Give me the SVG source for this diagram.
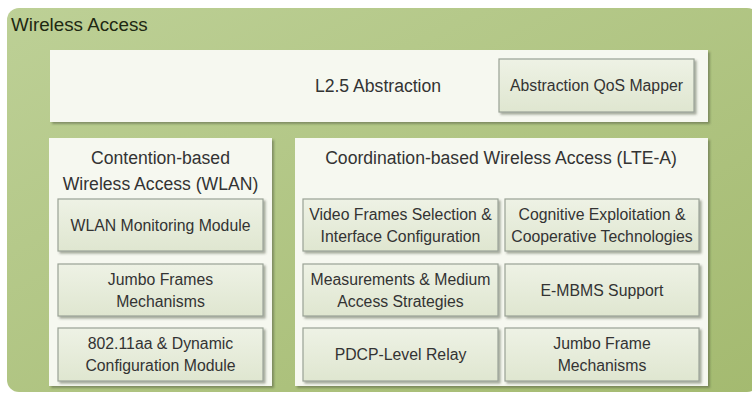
<svg xmlns="http://www.w3.org/2000/svg" width="752" height="394" viewBox="0 0 752 394">
  <defs>
    <linearGradient id="gGreen" x1="0" y1="0" x2="1" y2="1">
      <stop offset="0" stop-color="#bdd096"/>
      <stop offset="1" stop-color="#a4ba70"/>
    </linearGradient>
    <linearGradient id="gBox" x1="0" y1="0" x2="0" y2="1">
      <stop offset="0" stop-color="#eef2e5"/>
      <stop offset="1" stop-color="#dfe6d0"/>
    </linearGradient>
    <filter id="shadow" x="-5%" y="-5%" width="112%" height="120%">
      <feDropShadow dx="2" dy="2" stdDeviation="1.2" flood-color="#404a30" flood-opacity="0.45"/>
    </filter>
  </defs>
  <style>
    .panel { fill: #f6f8f0; filter: url(#shadow); }
    .box { fill: url(#gBox); stroke: #9aa296; stroke-width: 1.2; filter: url(#shadow); }
    text { font-family: "Liberation Sans", Arial, sans-serif; fill: #333333; text-anchor: middle; }
    .t { font-size: 15.8px; }
    .h { font-size: 17.6px; }
    .title { font-size: 18.8px; fill: #1e2812; text-anchor: start; }
  </style>

  <!-- outer frame -->
  <g id="wireless-access">
    <rect x="7" y="8" width="752" height="384" rx="12" fill="url(#gGreen)"/>
    <text class="title" x="11" y="31">Wireless Access</text>
  </g>

  <!-- abstraction layer -->
  <g id="l25-abstraction">
    <rect class="panel" x="50" y="50" width="658" height="72"/>
    <text class="h" x="378" y="92">L2.5 Abstraction</text>
  </g>
  <g id="qos-mapper">
    <rect class="box" x="499" y="59" width="195" height="53"/>
    <text class="t" x="596.5" y="91">Abstraction QoS Mapper</text>
  </g>

  <!-- WLAN panel -->
  <g id="wlan">
    <rect class="panel" x="49" y="138" width="223" height="248"/>
    <text class="h" x="160.5" y="164">Contention-based</text>
    <text class="h" x="160.5" y="190">Wireless Access (WLAN)</text>
  </g>
  <g id="wlan-monitoring">
    <rect class="box" x="58" y="199" width="205" height="52"/>
    <text class="t" x="160.5" y="231">WLAN Monitoring Module</text>
  </g>
  <g id="wlan-jumbo">
    <rect class="box" x="58" y="264" width="205" height="52"/>
    <text class="t" x="160.5" y="285">Jumbo Frames</text>
    <text class="t" x="160.5" y="307">Mechanisms</text>
  </g>
  <g id="wlan-80211aa">
    <rect class="box" x="58" y="328" width="205" height="53"/>
    <text class="t" x="160.5" y="349">802.11aa &amp; Dynamic</text>
    <text class="t" x="160.5" y="371">Configuration Module</text>
  </g>

  <!-- LTE-A panel -->
  <g id="lte-a">
    <rect class="panel" x="295" y="138" width="413" height="248"/>
    <text class="h" x="501" y="164">Coordination-based Wireless Access (LTE-A)</text>
  </g>
  <g id="video-frames">
    <rect class="box" x="303" y="199" width="195" height="52"/>
    <text class="t" x="400.5" y="220">Video Frames Selection &amp;</text>
    <text class="t" x="400.5" y="242">Interface Configuration</text>
  </g>
  <g id="cognitive">
    <rect class="box" x="505" y="199" width="194" height="52"/>
    <text class="t" x="602" y="220">Cognitive Exploitation &amp;</text>
    <text class="t" x="602" y="242">Cooperative Technologies</text>
  </g>
  <g id="measurements">
    <rect class="box" x="303" y="264" width="195" height="52"/>
    <text class="t" x="400.5" y="285">Measurements &amp; Medium</text>
    <text class="t" x="400.5" y="307">Access Strategies</text>
  </g>
  <g id="embms">
    <rect class="box" x="505" y="264" width="194" height="52"/>
    <text class="t" x="602" y="296">E-MBMS Support</text>
  </g>
  <g id="pdcp-relay">
    <rect class="box" x="303" y="328" width="195" height="53"/>
    <text class="t" x="400.5" y="360">PDCP-Level Relay</text>
  </g>
  <g id="lte-jumbo">
    <rect class="box" x="505" y="328" width="194" height="53"/>
    <text class="t" x="602" y="349">Jumbo Frame</text>
    <text class="t" x="602" y="371">Mechanisms</text>
  </g>

  <!-- no connectors between the blocks -->
  <g id="connectors"/>
</svg>
